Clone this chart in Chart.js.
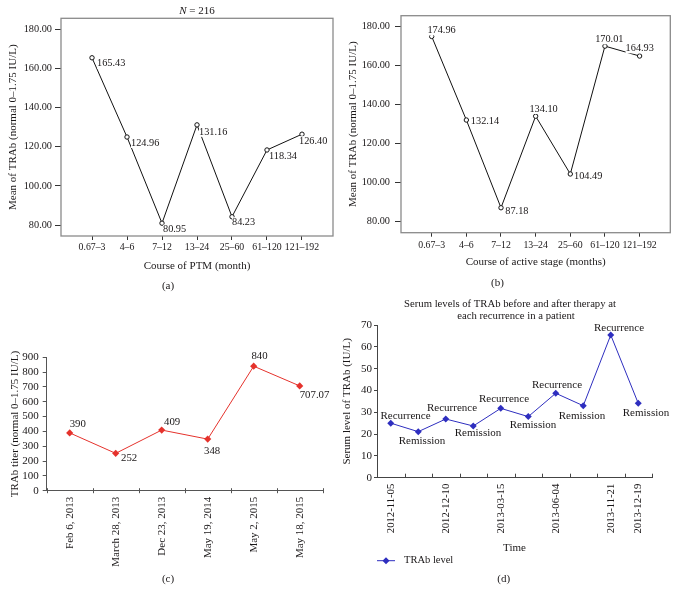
<!DOCTYPE html>
<html><head><meta charset="utf-8">
<script src="https://cdn.jsdelivr.net/npm/chart.js@4.4.1/dist/chart.umd.min.js"></script>
<style>
html,body{margin:0;padding:0;background:#fff}
body{width:677px;height:601px;position:relative;overflow:hidden}
canvas{position:absolute;display:block}
</style></head><body>
<canvas id="ca" width="338" height="295" style="left:0;top:0"></canvas>
<canvas id="cb" width="339" height="295" style="left:338px;top:0"></canvas>
<canvas id="cc" width="338" height="306" style="left:0;top:295px"></canvas>
<canvas id="cd" width="339" height="306" style="left:338px;top:295px"></canvas>
<script>
// ---------- data ----------
const periodsAB = ['0.67–3','4–6','7–12','13–24','25–60','61–120','121–192'];
const meanPTM = [165.43,124.96,80.95,131.16,84.23,118.34,126.40];
const meanActive = [174.96,132.14,87.18,134.10,104.49,170.01,164.93];
const yTicksAB = [80,100,120,140,160,180];

const datesC = ['Feb 6, 2013','March 28, 2013','Dec 23, 2013','May 19, 2014','May 2, 2015','May 18, 2015'];
const titerC = [390,252,409,348,840,707.07];
const yTicksC = [0,100,200,300,400,500,600,700,800,900];

const datesD = ['2012-11-05','','2012-12-10','','2013-03-15','','2013-06-04','','2013-11-21','2013-12-19'];
const levelD = [25,21.1,26.9,23.7,31.8,28,38.7,33,65.4,34.1];
const stateD = ['Recurrence','Remission','Recurrence','Remission','Recurrence','Remission','Recurrence','Remission','Recurrence','Remission'];
const yTicksD = [0,10,20,30,40,50,60,70];

// ---------- label placement (relative offsets from each point) ----------
const offA = [[5,6],[4,6],[1,6.5],[2,7],[0,5.5],[2,6],[-3,7]];
const offB = [[-4.3,-6],[4.5,1],[4.3,3.9],[-6.2,-7.2],[3.7,2.7],[-9.8,-6.8],[-14,-7.7]];
const offC = [[0,-8.3],[5.3,5],[2.3,-7.7],[-3.7,11.7],[-2.3,-10],[0,9]];
const offD = [[14.75,-7.2],[3.75,9],[6.25,-10.7],[4.75,7.3],[3.25,-9.1],[4.75,8.4],[1.25,-8.3],[-1.25,10.3],[8.25,-7.3],[7.75,10]];

const FAM = "'Liberation Serif','Times New Roman',serif";
const TXT = '#1a1718';
const RED = '#e5322c';
const BLUE = '#2e2ebf';
const f = (size, style) => ({family: FAM, size: size, style: style || 'normal'});
const css = (size, style) => (style ? style + ' ' : '') + size + 'px ' + FAM;

Chart.defaults.animation = false;
Chart.defaults.font.family = FAM;
Chart.defaults.color = TXT;

// ---------- plugins ----------
const pointLabels = {
  id: 'pointLabels',
  afterDatasetsDraw(chart) {
    const ctx = chart.ctx;
    chart.data.datasets.forEach((ds, di) => {
      const cfg = ds.pointLabels; if (!cfg) return;
      const meta = chart.getDatasetMeta(di);
      ctx.save();
      ctx.font = cfg.font; ctx.textBaseline = 'middle'; ctx.textAlign = cfg.align;
      meta.data.forEach((el, i) => {
        const t = cfg.texts[i]; if (!t) return;
        const o = cfg.offsets[i];
        const x = el.x + o[0], y = el.y + o[1];
        if (cfg.bg) {
          const w = ctx.measureText(t).width;
          const x0 = cfg.align === 'center' ? x - w / 2 : x;
          ctx.fillStyle = '#fff';
          ctx.fillRect(x0, y - 5, w + 1, 10);
        }
        ctx.fillStyle = cfg.color;
        ctx.fillText(t, x, y);
      });
      ctx.restore();
    });
  }
};

const extraText = {
  id: 'extraText',
  afterDraw(chart, args, opts) {
    const ctx = chart.ctx;
    const items = opts.items || [];
    ctx.save();
    ctx.textBaseline = 'middle';
    ctx.fillStyle = TXT;
    for (let k = 0; k < items.length; k++) {
      const it = items[k];
      const parts = it.parts;
      let total = 0;
      for (let p = 0; p < parts.length; p++) { ctx.font = css(it.size, parts[p][1]); total += ctx.measureText(parts[p][0]).width; }
      let x = it.x - total / 2;
      ctx.textAlign = 'left';
      for (let p = 0; p < parts.length; p++) {
        ctx.font = css(it.size, parts[p][1]);
        ctx.fillText(parts[p][0], x, it.y);
        x += ctx.measureText(parts[p][0]).width;
      }
    }
    ctx.restore();
  }
};

const frameBox = {
  id: 'frameBox',
  afterDraw(chart, args, opts) {
    if (!opts.on) return;
    const a = chart.chartArea, ctx = chart.ctx;
    ctx.save();
    ctx.strokeStyle = opts.color; ctx.lineWidth = opts.width;
    ctx.strokeRect(a.left, a.top, a.right - a.left, a.bottom - a.top);
    ctx.restore();
  }
};

const boundaryTicks = {
  id: 'boundaryTicks',
  afterDraw(chart, args, opts) {
    if (!opts.on) return;
    const xs = chart.scales.x, ctx = chart.ctx, y = chart.chartArea.bottom;
    const n = chart.data.datasets[0].data.length;
    ctx.save(); ctx.strokeStyle = opts.color; ctx.lineWidth = 1;
    for (let i = 0; i <= n; i++) {
      const x = Math.round(xs.getPixelForValue(i - 0.5)) + 0.5;
      ctx.beginPath(); ctx.moveTo(x, y + opts.below); ctx.lineTo(x, y - opts.above); ctx.stroke();
    }
    ctx.restore();
  }
};

const lineLegend = {
  id: 'lineLegend',
  afterDraw(chart, args, opts) {
    if (!opts.on) return;
    const ctx = chart.ctx, ds = chart.data.datasets[0];
    ctx.save();
    ctx.strokeStyle = ds.borderColor; ctx.lineWidth = 1;
    ctx.beginPath(); ctx.moveTo(opts.x, opts.y); ctx.lineTo(opts.x + opts.len, opts.y); ctx.stroke();
    const cx = opts.x + opts.len / 2, r = 3.5;
    ctx.fillStyle = ds.borderColor;
    ctx.beginPath(); ctx.moveTo(cx, opts.y - r); ctx.lineTo(cx + r, opts.y); ctx.lineTo(cx, opts.y + r); ctx.lineTo(cx - r, opts.y); ctx.closePath(); ctx.fill();
    ctx.fillStyle = TXT; ctx.font = css(opts.size); ctx.textBaseline = 'middle'; ctx.textAlign = 'left';
    ctx.fillText(ds.label, opts.x + opts.len + opts.gap, opts.y);
    ctx.restore();
  }
};

const allPlugins = [pointLabels, extraText, frameBox, boundaryTicks, lineLegend];
const xy = arr => arr.map((v, i) => ({x: i, y: v}));

// ---------- panels (a) and (b) ----------
function meanChart(id, values, offs, xTitle, caption, yWidth, xHeight, pad, yTitlePad, xTitlePad, yTickPad, xTickPad, extra) {
  return new Chart(document.getElementById(id), {
    type: 'line',
    data: { datasets: [{
      label: 'Mean of TRAb', data: xy(values),
      borderColor: '#111', borderWidth: 1, tension: 0,
      pointStyle: 'circle', pointRadius: 2.2, pointBorderWidth: 1,
      pointBackgroundColor: '#fff', pointBorderColor: '#111',
      pointLabels: { texts: values.map(v => v.toFixed(2)), offsets: offs, align: 'left', font: css(10.3), color: TXT, bg: true }
    }]},
    options: {
      responsive: false, animation: false,
      layout: { padding: pad },
      plugins: {
        legend: {display: false}, tooltip: {enabled: false},
        frameBox: { on: true, color: '#8a8a8a', width: 1.3 },
        extraText: { items: extra.concat([{ parts: [[caption, 'normal']], x: caption === '(a)' ? 168 : 159.5, y: caption === '(a)' ? 286 : 283.3, size: 11 }]) }
      },
      scales: {
        x: {
          type: 'linear', min: -0.886, max: 6.886, bounds: 'data',
          afterBuildTicks: s => { s.ticks = periodsAB.map((_, i) => ({value: i})); },
          afterFit: s => { s.height = xHeight; },
          ticks: { font: f(9.8), color: TXT, padding: xTickPad, autoSkip: false, maxRotation: 0, minRotation: 0, callback: v => periodsAB[v] },
          grid: { display: true, drawOnChartArea: false, drawTicks: true, tickLength: 4, color: '#333' },
          border: { display: false },
          title: { display: true, text: xTitle, font: f(11), color: TXT, padding: {top: 0, bottom: xTitlePad} }
        },
        y: {
          min: 74.4, max: 185.6, bounds: 'data',
          afterBuildTicks: s => { s.ticks = yTicksAB.map(v => ({value: v})); },
          afterFit: s => { s.width = yWidth; },
          ticks: { font: f(10.3), color: TXT, padding: yTickPad, autoSkip: false, callback: v => v.toFixed(2) },
          grid: { display: true, drawOnChartArea: false, drawTicks: true, tickLength: 6, color: '#333' },
          border: { display: false },
          title: { display: true, text: 'Mean of TRAb (normal 0–1.75 IU/L)', font: f(11), color: TXT, padding: {top: yTitlePad, bottom: 0} }
        }
      }
    },
    plugins: allPlugins
  });
}

meanChart('ca', meanPTM, offA, 'Course of PTM (month)', '(a)', 61, 39,
  {left: 0, right: 4.7, top: 18.3, bottom: 20}, 6.4, 2.7, 3, 2,
  [{ parts: [['N', 'italic'], [' = 216', 'normal']], x: 197, y: 10.7, size: 11 }]);

meanChart('cb', meanActive, offB, 'Course of active stage (months)', '(b)', 63, 42.3,
  {left: 0, right: 6.7, top: 15.7, bottom: 20}, 8.4, 6.7, 5, 3.3, []);

// ---------- panel (c) ----------
new Chart(document.getElementById('cc'), {
  type: 'line',
  data: { datasets: [{
    label: 'TRAb titer', data: xy(titerC),
    borderColor: RED, borderWidth: 1, tension: 0,
    pointStyle: 'rectRot', pointRadius: 3.6, pointBorderWidth: 0,
    pointBackgroundColor: RED, pointBorderColor: RED,
    pointLabels: { texts: titerC.map(v => String(v)), offsets: offC, align: 'left', font: css(10.8), color: TXT, bg: false }
  }]},
  options: {
    responsive: false, animation: false,
    layout: { padding: {left: 0, right: 15.3, top: 62.3, bottom: 0} },
    plugins: {
      legend: {display: false}, tooltip: {enabled: false},
      boundaryTicks: { on: true, color: '#555', above: 2.5, below: 2.5 },
      extraText: { items: [{ parts: [['(c)', 'normal']], x: 168, y: 284.3, size: 11 }] }
    },
    scales: {
      x: {
        type: 'linear', min: -0.5, max: 5.5, bounds: 'data',
        afterBuildTicks: s => { s.ticks = datesC.map((_, i) => ({value: i})); },
        afterFit: s => { s.height = 110.3; },
        ticks: { font: f(11), color: TXT, padding: 6, autoSkip: false, maxRotation: 90, minRotation: 90, callback: v => datesC[v] },
        grid: { display: false, drawTicks: false },
        border: { display: true, color: '#555', width: 1 }
      },
      y: {
        min: 0, max: 900, bounds: 'data',
        afterBuildTicks: s => { s.ticks = yTicksC.map(v => ({value: v})); },
        afterFit: s => { s.width = 46.7; },
        ticks: { font: f(11), color: TXT, padding: 4, autoSkip: false },
        grid: { display: true, drawOnChartArea: false, drawTicks: true, tickLength: 4, color: '#555' },
        border: { display: true, color: '#555', width: 1 },
        title: { display: true, text: 'TRAb titer (normal 0–1.75 IU/L)', font: f(11), color: TXT, padding: {top: 8.4, bottom: 0} }
      }
    }
  },
  plugins: allPlugins
});

// ---------- panel (d) ----------
new Chart(document.getElementById('cd'), {
  type: 'line',
  data: { datasets: [{
    label: 'TRAb level', data: xy(levelD),
    borderColor: BLUE, borderWidth: 1, tension: 0,
    pointStyle: 'rectRot', pointRadius: 3.5, pointBorderWidth: 0,
    pointBackgroundColor: BLUE, pointBorderColor: BLUE,
    pointLabels: { texts: stateD, offsets: offD, align: 'center', font: css(11), color: TXT, bg: false }
  }]},
  options: {
    responsive: false, animation: false,
    layout: { padding: {left: 0, right: 25, top: 30, bottom: 46} },
    plugins: {
      legend: {display: false}, tooltip: {enabled: false},
      boundaryTicks: { on: true, color: '#444', above: 4, below: 0 },
      lineLegend: { on: true, x: 39, y: 265.7, len: 18, gap: 9, size: 10.5 },
      extraText: { items: [
        { parts: [['Serum levels of TRAb before and after therapy at', 'normal']], x: 172, y: 9.5, size: 10.7 },
        { parts: [['each recurrence in a patient', 'normal']], x: 178, y: 21.5, size: 10.7 },
        { parts: [['(d)', 'normal']], x: 165.7, y: 284.3, size: 11 }
      ] }
    },
    scales: {
      x: {
        type: 'linear', min: -0.5, max: 9.5, bounds: 'data',
        afterBuildTicks: s => { s.ticks = datesD.map((_, i) => ({value: i})); },
        afterFit: s => { s.height = 77.3; },
        ticks: { font: f(10.7), color: TXT, padding: 6, autoSkip: false, maxRotation: 90, minRotation: 90, callback: v => datesD[v] },
        grid: { display: false, drawTicks: false },
        border: { display: true, color: '#444', width: 1 },
        title: { display: true, text: 'Time', font: f(11), color: TXT, padding: {top: 0, bottom: 0.4} }
      },
      y: {
        min: 0, max: 70, bounds: 'data',
        afterBuildTicks: s => { s.ticks = yTicksD.map(v => ({value: v})); },
        afterFit: s => { s.width = 39; },
        ticks: { font: f(11), color: TXT, padding: 2, autoSkip: false },
        grid: { display: true, drawOnChartArea: false, drawTicks: true, tickLength: 3, color: '#444' },
        border: { display: true, color: '#444', width: 1 },
        title: { display: true, text: 'Serum level of TRAb (IU/L)', font: f(11), color: TXT, padding: {top: 2.9, bottom: 0} }
      }
    }
  },
  plugins: allPlugins
});
</script>
</body></html>
